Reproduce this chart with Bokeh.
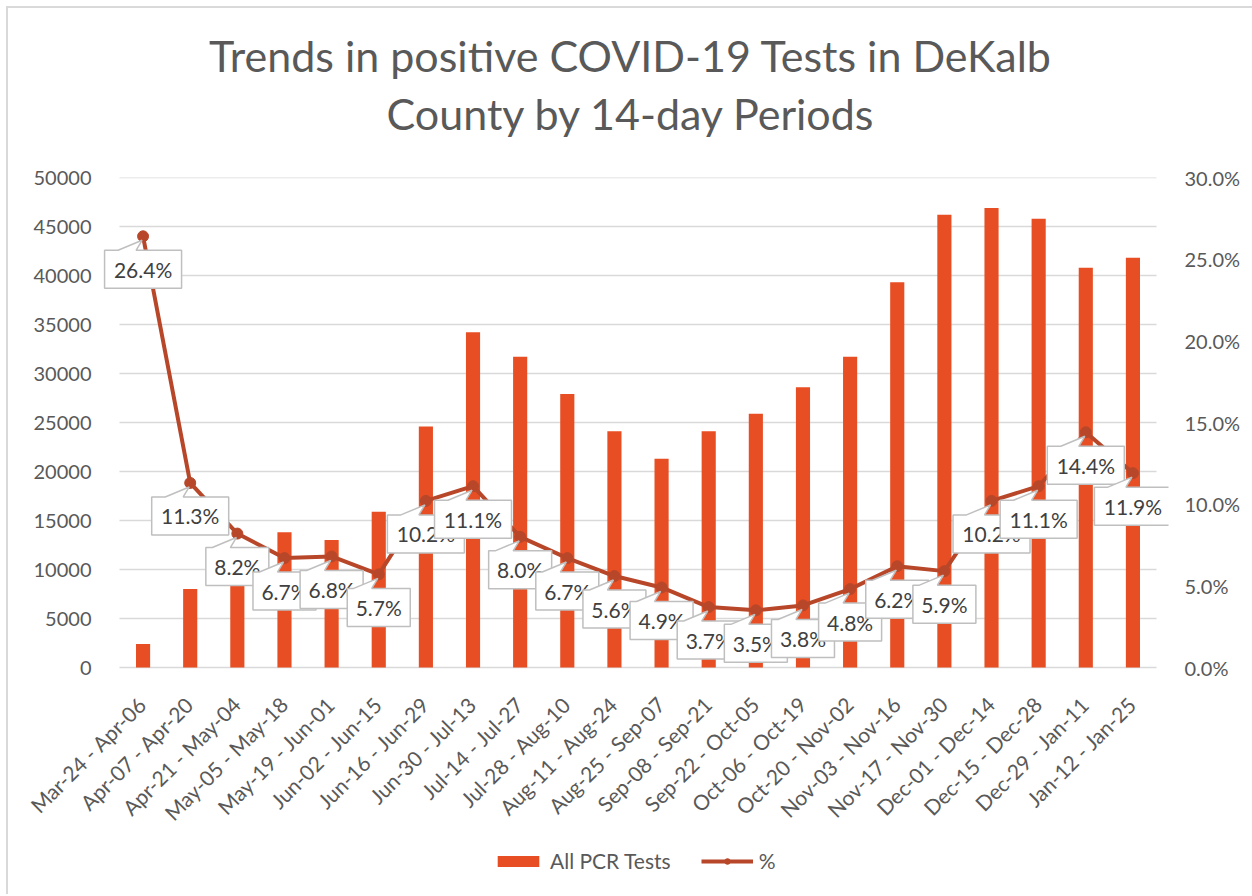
import math
from bokeh.plotting import figure
from bokeh.layouts import column
from bokeh.models import (Range1d, LinearAxis, FixedTicker, PrintfTickFormatter,
                          BasicTickFormatter, Legend, LegendItem, Div)
from bokeh.core.properties import value
from bokeh.embed import file_html
from bokeh.resources import INLINE

# ---------------- data ----------------
periods = ["Mar-24 - Apr-06", "Apr-07 - Apr-20", "Apr-21 - May-04", "May-05 - May-18",
           "May-19 - Jun-01", "Jun-02 - Jun-15", "Jun-16 - Jun-29", "Jun-30 - Jul-13",
           "Jul-14 - Jul-27", "Jul-28 - Aug-10", "Aug-11 - Aug-24", "Aug-25 - Sep-07",
           "Sep-08 - Sep-21", "Sep-22 - Oct-05", "Oct-06 - Oct-19", "Oct-20 - Nov-02",
           "Nov-03 - Nov-16", "Nov-17 - Nov-30", "Dec-01 - Dec-14", "Dec-15 - Dec-28",
           "Dec-29 - Jan-11", "Jan-12 - Jan-25"]
pcr_tests = [2400, 8000, 9000, 13800, 13000, 15900, 24600, 34200, 31700, 27900, 24100,
             21300, 24100, 25900, 28600, 31700, 39300, 46200, 46900, 45800, 40800, 41800]
pct_positive = [26.4, 11.3, 8.2, 6.7, 6.8, 5.7, 10.2, 11.1, 8.0, 6.7, 5.6, 4.9, 3.7, 3.5,
                3.8, 4.8, 6.2, 5.9, 10.2, 11.1, 14.4, 11.9]
left_ticks = list(range(0, 50001, 5000))
right_ticks = [0, 5, 10, 15, 20, 25, 30]
title_lines = ["Trends in positive COVID-19 Tests in DeKalb", "County by 14-day Periods"]

# ---------------- style ----------------
FONT = "Lato"
BAR = "#E84E23"
LINE = "#B8472A"
GRID = "#D9D9D9"
TXT = "#595959"
LBL = "#404040"

n = len(periods)
PXU = 1037 / n                 # px per category
PH = 490                       # px height of the 0..max value area
EXT_L, EXT_R, EXT_B = 95, 12, 227   # frame extends beyond the value area (callouts, labels, legend)
FW, FH = 1037 + EXT_L + EXT_R, PH + EXT_B
ML, MT = 16, 19
TOTAL_W = 1244
MR = TOTAL_W - ML - FW
xs = list(range(n))
x0, x1 = -0.5, n - 0.5
YMAX, PMAX = 50000, 30
ky = YMAX / PH                 # data per px on left axis
dy = PMAX / PH                 # data per px on pct axis
dx = 1.0 / PXU                 # data per px on x

p = figure(frame_width=FW, frame_height=FH,
           x_range=Range1d(x0 - EXT_L * dx, x1 + EXT_R * dx),
           y_range=Range1d(-EXT_B * ky, YMAX),
           output_backend="svg", toolbar_location=None, title_location=None,
           min_border_left=ML, min_border_right=MR, min_border_top=MT, min_border_bottom=0)
p.extra_y_ranges = {"pct": Range1d(-EXT_B * dy, PMAX)}
p.outline_line_color = None
p.background_fill_color = "white"
p.border_fill_color = "white"
p.margin = 0
p.xaxis.visible = False

ya = p.yaxis[0]
ya.ticker = FixedTicker(ticks=left_ticks)
ya.formatter = BasicTickFormatter(use_scientific=False)
ya.axis_line_color = None
ya.major_tick_line_color = None
ya.minor_tick_line_color = None
ya.major_label_text_font = FONT
ya.major_label_text_font_size = "20px"
ya.major_label_text_color = TXT
ya.major_label_standoff = 22 - EXT_L

ra = LinearAxis(y_range_name="pct", ticker=FixedTicker(ticks=right_ticks),
                formatter=PrintfTickFormatter(format="%.1f%%"))
ra.axis_line_color = None
ra.major_tick_line_color = None
ra.minor_tick_line_color = None
ra.major_label_text_font = FONT
ra.major_label_text_font_size = "20px"
ra.major_label_text_color = TXT
ra.major_label_standoff = 22 - EXT_R
p.add_layout(ra, "right")

p.xgrid.grid_line_color = None
p.ygrid.grid_line_color = None

# gridlines limited to the category area
p.segment(x0=[x0] * len(left_ticks), x1=[x1] * len(left_ticks), y0=left_ticks, y1=left_ticks,
          line_color=GRID, line_width=1.5)

# category labels, rotated 45 degrees below the baseline
p.text(x=[i - 1 * dx for i in xs], y=[-33 * ky] * n, text=periods, angle=math.pi / 4,
       text_align="right", text_baseline="middle", text_font=value(FONT),
       text_font_size="21px", text_color=TXT)

# series
bars = p.vbar(x=xs, top=pcr_tests, width=0.3, fill_color=BAR, line_color=None)
ln = p.line(xs, pct_positive, y_range_name="pct", line_color=LINE, line_width=4)
mk = p.scatter(xs, pct_positive, y_range_name="pct", size=11, fill_color=LINE, line_color=LINE)

# callout data labels
for i, v in enumerate(pct_positive):
    s = f"{v:.1f}%"
    w = 14 * len(s) + 7
    top, bot = 14, 52
    pts = [(-w / 2, top), (-25, top), (-1, 4), (-7, top), (w / 2, top), (w / 2, bot), (-w / 2, bot)]
    px = [i + a * dx for a, b in pts]
    py = [v - b * dy for a, b in pts]
    p.patch(px, py, y_range_name="pct", fill_color="white", line_color="#BFBFBF", line_width=1.5)
    p.text(x=[i], y=[v - 33 * dy], text=[s], y_range_name="pct", text_align="center",
           text_baseline="middle", text_font=value(FONT), text_font_size="21px", text_color=LBL)

legend = Legend(items=[LegendItem(label="All PCR Tests", renderers=[bars]),
                       LegendItem(label="%", renderers=[ln, mk])],
                orientation="horizontal", location=(468, 21),
                label_text_font=FONT, label_text_font_size="21px", label_text_color=TXT,
                glyph_width=52, glyph_height=14, spacing=30, label_standoff=6,
                border_line_color=None, background_fill_alpha=0, margin=0, padding=4)
p.add_layout(legend, "center")

title_html = ('<div style="width:1244px;text-align:center;font-family:Lato;font-size:43px;'
              'color:#595959;line-height:58px;padding-top:19px;white-space:nowrap;">'
              + "<br>".join(title_lines) + "</div>")
head = Div(text=title_html, width=TOTAL_W, height=150, margin=0)

layout = column(head, p, spacing=0, margin=0)
layout.styles = {"margin-left": "6px", "margin-top": "6px",
                 "border-left": "2px solid #D9D9D9", "border-top": "2px solid #D9D9D9"}

open("out.html", "w").write(file_html(layout, INLINE))
